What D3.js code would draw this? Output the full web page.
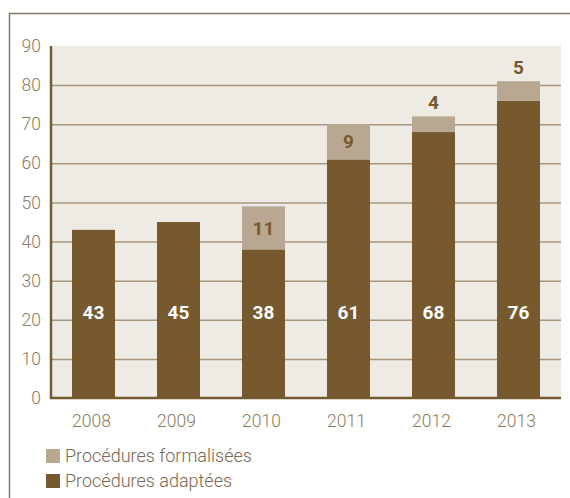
<html>
<head>
  <meta charset="utf-8" />
  <script src="https://d3js.org/d3.v7.min.js"></script>
</head>
<body style="margin: 0; background: #fff">
<script>

var years = ['2008', '2009', '2010', '2011', '2012', '2013']
var adaptees = [43, 45, 38, 61, 68, 76]
var formalisees = [0, 0, 11, 9, 4, 5]
var yTicks = [0, 10, 20, 30, 40, 50, 60, 70, 80, 90]
var legendLabels = ['Procédures formalisées', 'Procédures adaptées']

var dark = '#76592f', light = '#b9a891', grid = '#a8957b', txt = '#8c7a60'
var font = "Roboto, 'DejaVu Sans', sans-serif"

var svg = d3.select("body").append("svg")
  .attr("width", 570)
  .attr("height", 498)

// outer frame
svg.append("line").attr("x1", 9).attr("x2", 570).attr("y1", 13.5).attr("y2", 13.5)
  .attr("stroke", txt).attr("stroke-width", 1.5)
svg.append("line").attr("x1", 9.5).attr("x2", 9.5).attr("y1", 13).attr("y2", 498)
  .attr("stroke", txt).attr("stroke-width", 1.5)

var x = d3.scaleBand().domain(years).range([51, 561]).paddingInner(0.494).paddingOuter(0.247)
var y = d3.scaleLinear().domain([0, 90]).range([398, 46])

svg.append("rect")
  .attr("x", 51).attr("y", y(90))
  .attr("width", 510).attr("height", y(0) - y(90))
  .attr("fill", "#eeebe5")

var yAxis = svg.append("g").attr("transform", "translate(51,0)")
  .call(d3.axisLeft(y).tickValues(yTicks).tickSize(-510).tickFormat(d3.format("d")))
yAxis.select(".domain").remove()
yAxis.selectAll(".tick line").attr("stroke", grid).attr("stroke-width", 1.5)
  .filter(d => d == 0 || d == 90).remove()
yAxis.selectAll(".tick text").attr("x", -10).attr("fill", txt)
  .style("font-family", font).style("font-weight", 300).style("font-size", "17.5px")

var g = svg.append("g")
g.selectAll(".adp").data(years).enter().append("rect")
  .attr("x", d => x(d)).attr("width", x.bandwidth())
  .attr("y", (d, i) => y(adaptees[i])).attr("height", (d, i) => y(0) - y(adaptees[i]))
  .attr("fill", dark)
g.selectAll(".frm").data(years).enter().append("rect")
  .attr("x", d => x(d)).attr("width", x.bandwidth())
  .attr("y", (d, i) => y(adaptees[i] + formalisees[i]))
  .attr("height", (d, i) => y(adaptees[i]) - y(adaptees[i] + formalisees[i]))
  .attr("fill", light)

// values
g.selectAll(".vadp").data(years).enter().append("text")
  .attr("x", d => x(d) + x.bandwidth() / 2).attr("y", y(22))
  .attr("text-anchor", "middle").attr("dy", "0.35em")
  .attr("fill", "#fff").style("font-family", font).style("font-weight", "bold").style("font-size", "19px")
  .text((d, i) => adaptees[i])
g.selectAll(".vfrm").data(years.filter((d, i) => formalisees[i] > 0)).enter().append("text")
  .attr("x", d => x(d) + x.bandwidth() / 2)
  .attr("y", d => {
    var i = years.indexOf(d), v = formalisees[i], a = adaptees[i]
    return v >= 8 ? y(a + v / 2) : y(a + v) - 14
  })
  .attr("text-anchor", "middle").attr("dy", "0.35em")
  .attr("fill", dark).style("font-family", font).style("font-weight", "bold").style("font-size", "19px")
  .text(d => formalisees[years.indexOf(d)])

// axes lines
svg.append("line").attr("x1", 50).attr("x2", 561).attr("y1", 398).attr("y2", 398)
  .attr("stroke", dark).attr("stroke-width", 2.5)
svg.append("line").attr("x1", 51).attr("x2", 51).attr("y1", 46).attr("y2", 399)
  .attr("stroke", dark).attr("stroke-width", 2.5)

var xAxis = svg.append("g").attr("transform", "translate(-2,398)")
  .call(d3.axisBottom(x).tickSize(0).tickPadding(17))
xAxis.select(".domain").remove()
xAxis.selectAll("text").attr("fill", txt).style("font-family", font).style("font-weight", 300).style("font-size", "17.5px")

// legend
var leg = svg.selectAll(".leg").data(legendLabels).enter().append("g")
  .attr("transform", (d, i) => "translate(46," + (449 + i * 25) + ")")
leg.append("rect").attr("width", 14).attr("height", 14).attr("fill", (d, i) => i == 0 ? light : dark)
leg.append("text").attr("x", 19).attr("y", 7).attr("dy", "0.35em")
  .attr("fill", "#7a6650").style("font-family", font).style("font-weight", 300).style("font-size", "18px")
  .text(d => d)

</script>
</body>
</html>
